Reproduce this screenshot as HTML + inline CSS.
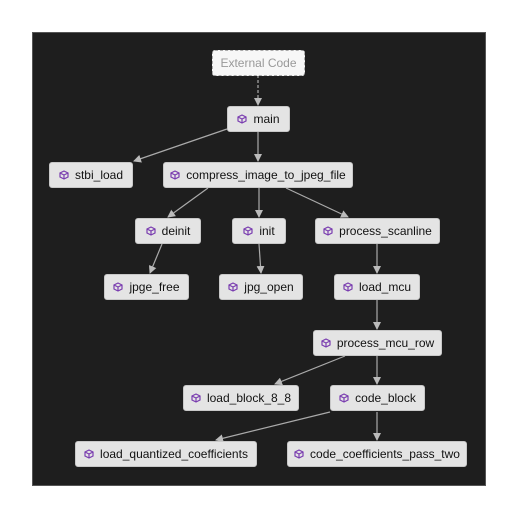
<!DOCTYPE html>
<html><head><style>
body{margin:0;width:517px;height:517px;background:#fff;position:relative;overflow:hidden;font-family:"Liberation Sans",sans-serif}
#p{position:absolute;left:32px;top:32px;width:452px;height:452px;background:#1e1e1e;border:1px solid #555}
.n{position:absolute;height:26px;background:#e4e4e4;border:1px solid #c8c8c8;border-radius:3px;box-sizing:border-box;font-size:12px;color:#111;display:flex;align-items:center;justify-content:center;white-space:nowrap}
.n svg{margin-right:6px}
.e{background:#f7f7f7;color:#999;border:1px dashed #aaa}
</style></head><body>
<div id="p"></div>
<svg width="517" height="517" style="position:absolute;left:0;top:0">
<defs><marker id="a" markerWidth="8" markerHeight="8" refX="7" refY="4" orient="auto" markerUnits="userSpaceOnUse"><path d="M0,0L8,4L0,8z" fill="#bbb"/></marker></defs>
<g stroke="#aaa" stroke-width="1.2" fill="none" marker-end="url(#a)">
<line x1="258" y1="75" x2="258" y2="105" stroke-dasharray="3,2"/>
<line x1="258" y1="132" x2="258" y2="161"/>
<line x1="227" y1="129" x2="134" y2="161"/>
<line x1="208" y1="188" x2="168" y2="217"/>
<line x1="259" y1="188" x2="259" y2="217"/>
<line x1="286" y1="188" x2="348" y2="217"/>
<line x1="162" y1="244" x2="150" y2="273"/>
<line x1="259" y1="244" x2="261" y2="273"/>
<line x1="377" y1="244" x2="377" y2="273"/>
<line x1="377" y1="300" x2="377" y2="329"/>
<line x1="345" y1="356" x2="275" y2="384"/>
<line x1="377" y1="356" x2="377" y2="384"/>
<line x1="330" y1="412" x2="216" y2="440"/>
<line x1="377" y1="412" x2="377" y2="440"/>
</g></svg>
<div class="n e" style="left:212px;top:50px;width:93px">External Code</div>
<div class="n" style="left:227px;top:106px;width:63px">ICmain</div>
<div class="n" style="left:49px;top:162px;width:84px">ICstbi_load</div>
<div class="n" style="left:163px;top:162px;width:190px">ICcompress_image_to_jpeg_file</div>
<div class="n" style="left:135px;top:218px;width:66px">ICdeinit</div>
<div class="n" style="left:232px;top:218px;width:54px">ICinit</div>
<div class="n" style="left:315px;top:218px;width:125px">ICprocess_scanline</div>
<div class="n" style="left:104px;top:274px;width:85px">ICjpge_free</div>
<div class="n" style="left:219px;top:274px;width:84px">ICjpg_open</div>
<div class="n" style="left:334px;top:274px;width:86px">ICload_mcu</div>
<div class="n" style="left:313px;top:330px;width:129px">ICprocess_mcu_row</div>
<div class="n" style="left:183px;top:385px;width:116px">ICload_block_8_8</div>
<div class="n" style="left:330px;top:385px;width:95px">ICcode_block</div>
<div class="n" style="left:75px;top:441px;width:182px">ICload_quantized_coefficients</div>
<div class="n" style="left:287px;top:441px;width:180px">ICcode_coefficients_pass_two</div>
<script>
document.querySelectorAll('.n').forEach(function(n){if(n.textContent.indexOf('IC')==0){n.innerHTML='<svg width="10" height="10" viewBox="0 0 10 10"><path d="M5 1L9 3V7L5 9L1 7V3Z M1 3L5 5L9 3 M5 5V9" fill="none" stroke="#7a3db0" stroke-width="1.2"/></svg>'+n.textContent.slice(2);}});
</script>
</body></html>
